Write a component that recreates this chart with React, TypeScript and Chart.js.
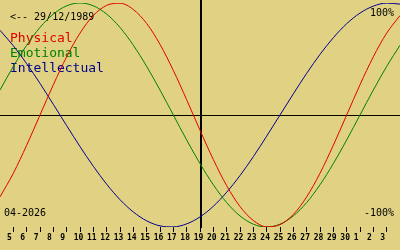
import { useEffect, useRef } from "react";
import { Chart, registerables } from "chart.js";

Chart.register(...registerables);

// Day offsets from 04-04-2026 (x axis values)
const DAY_OFFSETS = [0, 1, 2, 3, 4, 5, 6, 7, 8, 9, 10, 11, 12, 13, 14, 15, 16, 17, 18, 19, 20, 21, 22, 23, 24, 25, 26, 27, 28, 29, 30];

const PHYSICAL = [-0.731, -0.52, -0.27, 0, 0.27, 0.52, 0.731, 0.888, 0.979, 0.998, 0.942, 0.817, 0.631, 0.398, 0.136, -0.136, -0.398, -0.631, -0.817, -0.942, -0.998, -0.979, -0.888, -0.731, -0.52, -0.27, 0, 0.27, 0.52, 0.731, 0.888];
const EMOTIONAL = [0.223, 0.434, 0.623, 0.782, 0.901, 0.975, 1.0, 0.975, 0.901, 0.782, 0.623, 0.434, 0.223, 0, -0.223, -0.434, -0.623, -0.782, -0.901, -0.975, -1.0, -0.975, -0.901, -0.782, -0.623, -0.434, -0.223, 0, 0.223, 0.434, 0.623];
const INTELLECTUAL = [0.756, 0.618, 0.458, 0.282, 0.095, -0.095, -0.282, -0.458, -0.618, -0.756, -0.866, -0.945, -0.99, -0.999, -0.972, -0.91, -0.815, -0.69, -0.541, -0.372, -0.189, 0, 0.189, 0.372, 0.541, 0.69, 0.815, 0.91, 0.972, 0.999, 0.99];

const SERIES_NAMES = ["Physical", "Emotional", "Intellectual"];
const SERIES_COLORS = ["#e00000", "#008000", "#000090"];

const TICK_OFFSETS = [1, 2, 3, 4, 5, 6, 7, 8, 9, 10, 11, 12, 13, 14, 15, 16, 17, 18, 19, 20, 21, 22, 23, 24, 25, 26, 27, 28, 29];
const TICK_LABELS = ["5", "6", "7", "8", "9", "10", "11", "12", "13", "14", "15", "16", "17", "18", "19", "20", "21", "22", "23", "24", "25", "26", "27", "28", "29", "30", "1", "2", "3"];

const TODAY_OFFSET = 15;
const BIRTH_LABEL = "<-- 29/12/1989";
const MONTH_LABEL = "04-2026";
const TOP_LABEL = "100%";
const BOTTOM_LABEL = "-100%";

const BG = "#e0d282";
const MONO = '"DejaVu Sans Mono", "Liberation Mono", monospace';

const overlayPlugin = {
  id: "bioOverlay",
  beforeDatasetsDraw(chart: any) {
    const { ctx, chartArea, scales } = chart;
    const xs = scales.x;
    const ys = scales.y;
    ctx.save();
    ctx.fillStyle = "#000000";
    const y0 = Math.round(ys.getPixelForValue(0));
    ctx.fillRect(0, y0, chart.width, 1);
    const xt = Math.round(xs.getPixelForValue(TODAY_OFFSET));
    ctx.fillRect(xt, 0, 2, chartArea.bottom + 1);

    ctx.textBaseline = "alphabetic";
    ctx.textAlign = "left";
    ctx.font = `10px ${MONO}`;
    ctx.fillStyle = "#000000";
    ctx.fillText(BIRTH_LABEL, 10, 20);
    ctx.fillText(MONTH_LABEL, 4, 216);
    ctx.textAlign = "right";
    ctx.fillText(TOP_LABEL, 394, 16);
    ctx.fillText(BOTTOM_LABEL, 394, 216);

    ctx.textAlign = "left";
    ctx.font = `13px ${MONO}`;
    SERIES_NAMES.forEach((name, i) => {
      ctx.fillStyle = SERIES_COLORS[i];
      ctx.fillText(name, 10, 42 + i * 15);
    });
    ctx.restore();
  },
};

export default function App() {
  const canvasRef = useRef<HTMLCanvasElement | null>(null);

  useEffect(() => {
    document.body.style.margin = "0";
    const canvas = canvasRef.current;
    if (!canvas) return;
    const seriesData = [PHYSICAL, EMOTIONAL, INTELLECTUAL];
    const chart = new Chart(canvas, {
      type: "line",
      data: {
        datasets: seriesData.map((vals, i) => ({
          label: SERIES_NAMES[i],
          data: DAY_OFFSETS.map((d, j) => ({ x: d, y: vals[j] })),
          borderColor: SERIES_COLORS[i],
          borderWidth: 1,
          pointRadius: 0,
          fill: false,
          cubicInterpolationMode: "monotone" as const,
        })),
      },
      options: {
        animation: false,
        responsive: false,
        devicePixelRatio: 1,
        layout: { padding: { top: 3, left: 0, right: 0, bottom: 0 } },
        plugins: { legend: { display: false }, tooltip: { enabled: false } },
        scales: {
          x: {
            type: "linear",
            min: 0,
            max: 30,
            border: { display: false },
            grid: { drawOnChartArea: false, drawTicks: true, tickLength: 5, tickColor: "#000000", tickWidth: 1 },
            afterBuildTicks: (scale: any) => {
              scale.ticks = TICK_OFFSETS.map((v) => ({ value: v }));
            },
            afterFit: (scale: any) => {
              scale.height = 23;
            },
            ticks: {
              autoSkip: false,
              maxRotation: 0,
              padding: 1,
              labelOffset: -1.5,
              color: "#000000",
              font: { family: MONO, size: 8, weight: "bold" },
              callback: (value: any) => {
                const idx = TICK_OFFSETS.indexOf(Number(value));
                const lbl = idx >= 0 ? TICK_LABELS[idx] : "";
                return lbl.length === 1 ? lbl + " " : lbl;
              },
            },
          },
          y: {
            display: false,
            min: -1,
            max: 1,
          },
        },
      },
      plugins: [overlayPlugin],
    });
    return () => chart.destroy();
  }, []);

  return (
    <div style={{ width: 400, height: 250, background: BG, position: "absolute", left: 0, top: 0 }}>
      <canvas ref={canvasRef} width={400} height={250} style={{ display: "block" }} />
    </div>
  );
}
